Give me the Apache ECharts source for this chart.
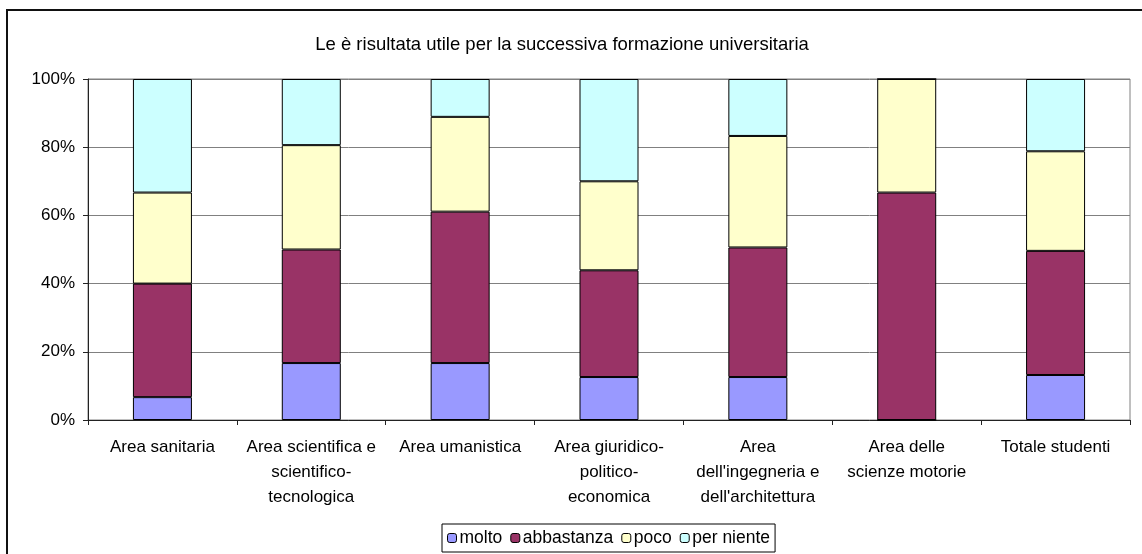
<!DOCTYPE html>
<html>
<head>
<meta charset="utf-8">
<script src="https://cdn.jsdelivr.net/npm/echarts@6/dist/echarts.min.js"></script>
<style>
  html, body { margin: 0; padding: 0; background: #fff; }
  #chart { width: 1142px; height: 554px; }
</style>
</head>
<body>
<div id="chart"></div>
<script>
// Categories (line breaks follow the wrapped labels under each column)
const categories = [
  'Area sanitaria',
  'Area scientifica e\nscientifico-\ntecnologica',
  'Area umanistica',
  'Area giuridico-\npolitico-\neconomica',
  'Area\ndell\'ingegneria e\ndell\'architettura',
  'Area delle\nscienze motorie',
  'Totale studenti'
];

// Shares (%) per answer, one value per category
const molto      = [6.7, 16.7, 16.7, 12.6, 12.6, 0, 13.2];
const abbastanza = [33.3, 33.3, 44.4, 31.3, 38.0, 66.7, 36.4];
const poco       = [26.7, 30.6, 27.8, 26.1, 32.7, 33.3, 29.2];
const perNiente  = [33.3, 19.4, 11.1, 30.0, 16.7, 0, 21.2];

const yTicks = [0, 20, 40, 60, 80, 100];

const font = 'Liberation Sans, Arial, sans-serif';
const chart = echarts.init(document.getElementById('chart'), null, { renderer: 'canvas' });

function barSeries(name, data, color) {
  return {
    name: name,
    type: 'bar',
    stack: 'tot',
    data: data,
    barWidth: 59,
    itemStyle: { color: color, borderColor: '#000', borderWidth: 1 },
    emphasis: { disabled: true }
  };
}

chart.setOption({
  animation: false,
  backgroundColor: '#fff',
  textStyle: { fontFamily: font },
  title: {
    text: 'Le è risultata utile per la successiva formazione universitaria',
    left: 557,
    textAlign: 'center',
    top: 30,
    textStyle: { fontFamily: font, fontSize: 18.5, fontWeight: 'normal', color: '#000' }
  },
  legend: {
    left: 442,
    top: 524,
    itemWidth: 9,
    itemHeight: 9,
    itemGap: 8,
    padding: [5, 5, 5, 5],
    borderColor: '#000',
    borderWidth: 1,
    textStyle: { fontFamily: font, fontSize: 17.5, color: '#000', padding: [0, 0, 0, -2] },
    itemStyle: { borderColor: '#000', borderWidth: 1 },
    data: ['molto', 'abbastanza', 'poco', 'per niente']
  },
  grid: { left: 88, right: 12, top: 79, bottom: 134, containLabel: false,
          show: true, borderColor: '#808080', borderWidth: 1 },
  xAxis: {
    type: 'category',
    data: categories,
    axisLine: { lineStyle: { color: '#222', width: 1 } },
    axisTick: { show: true, length: 5, lineStyle: { color: '#222' } },
    axisLabel: { interval: 0, margin: 15, fontFamily: font, fontSize: 17, color: '#000', lineHeight: 25 }
  },
  yAxis: {
    type: 'value',
    min: 0,
    max: 100,
    interval: 20,
    axisLine: { show: true, lineStyle: { color: '#222', width: 1 } },
    axisTick: { show: true, length: 5, lineStyle: { color: '#222' } },
    splitLine: { lineStyle: { color: '#808080', width: 1 } },
    axisLabel: {
      margin: 13, fontFamily: font, fontSize: 17, color: '#000',
      formatter: v => (yTicks.indexOf(v) >= 0 ? v + '%' : '')
    }
  },
  graphic: [{
    type: 'rect',
    shape: { x: 7, y: 10, width: 1300, height: 700 },
    style: { fill: 'none', stroke: '#111', lineWidth: 2 },
    silent: true,
    z: 100
  }],
  series: [
    barSeries('molto', molto, '#9999FF'),
    barSeries('abbastanza', abbastanza, '#993366'),
    barSeries('poco', poco, '#FFFFCC'),
    barSeries('per niente', perNiente, '#CCFFFF')
  ]
});
</script>
</body>
</html>
